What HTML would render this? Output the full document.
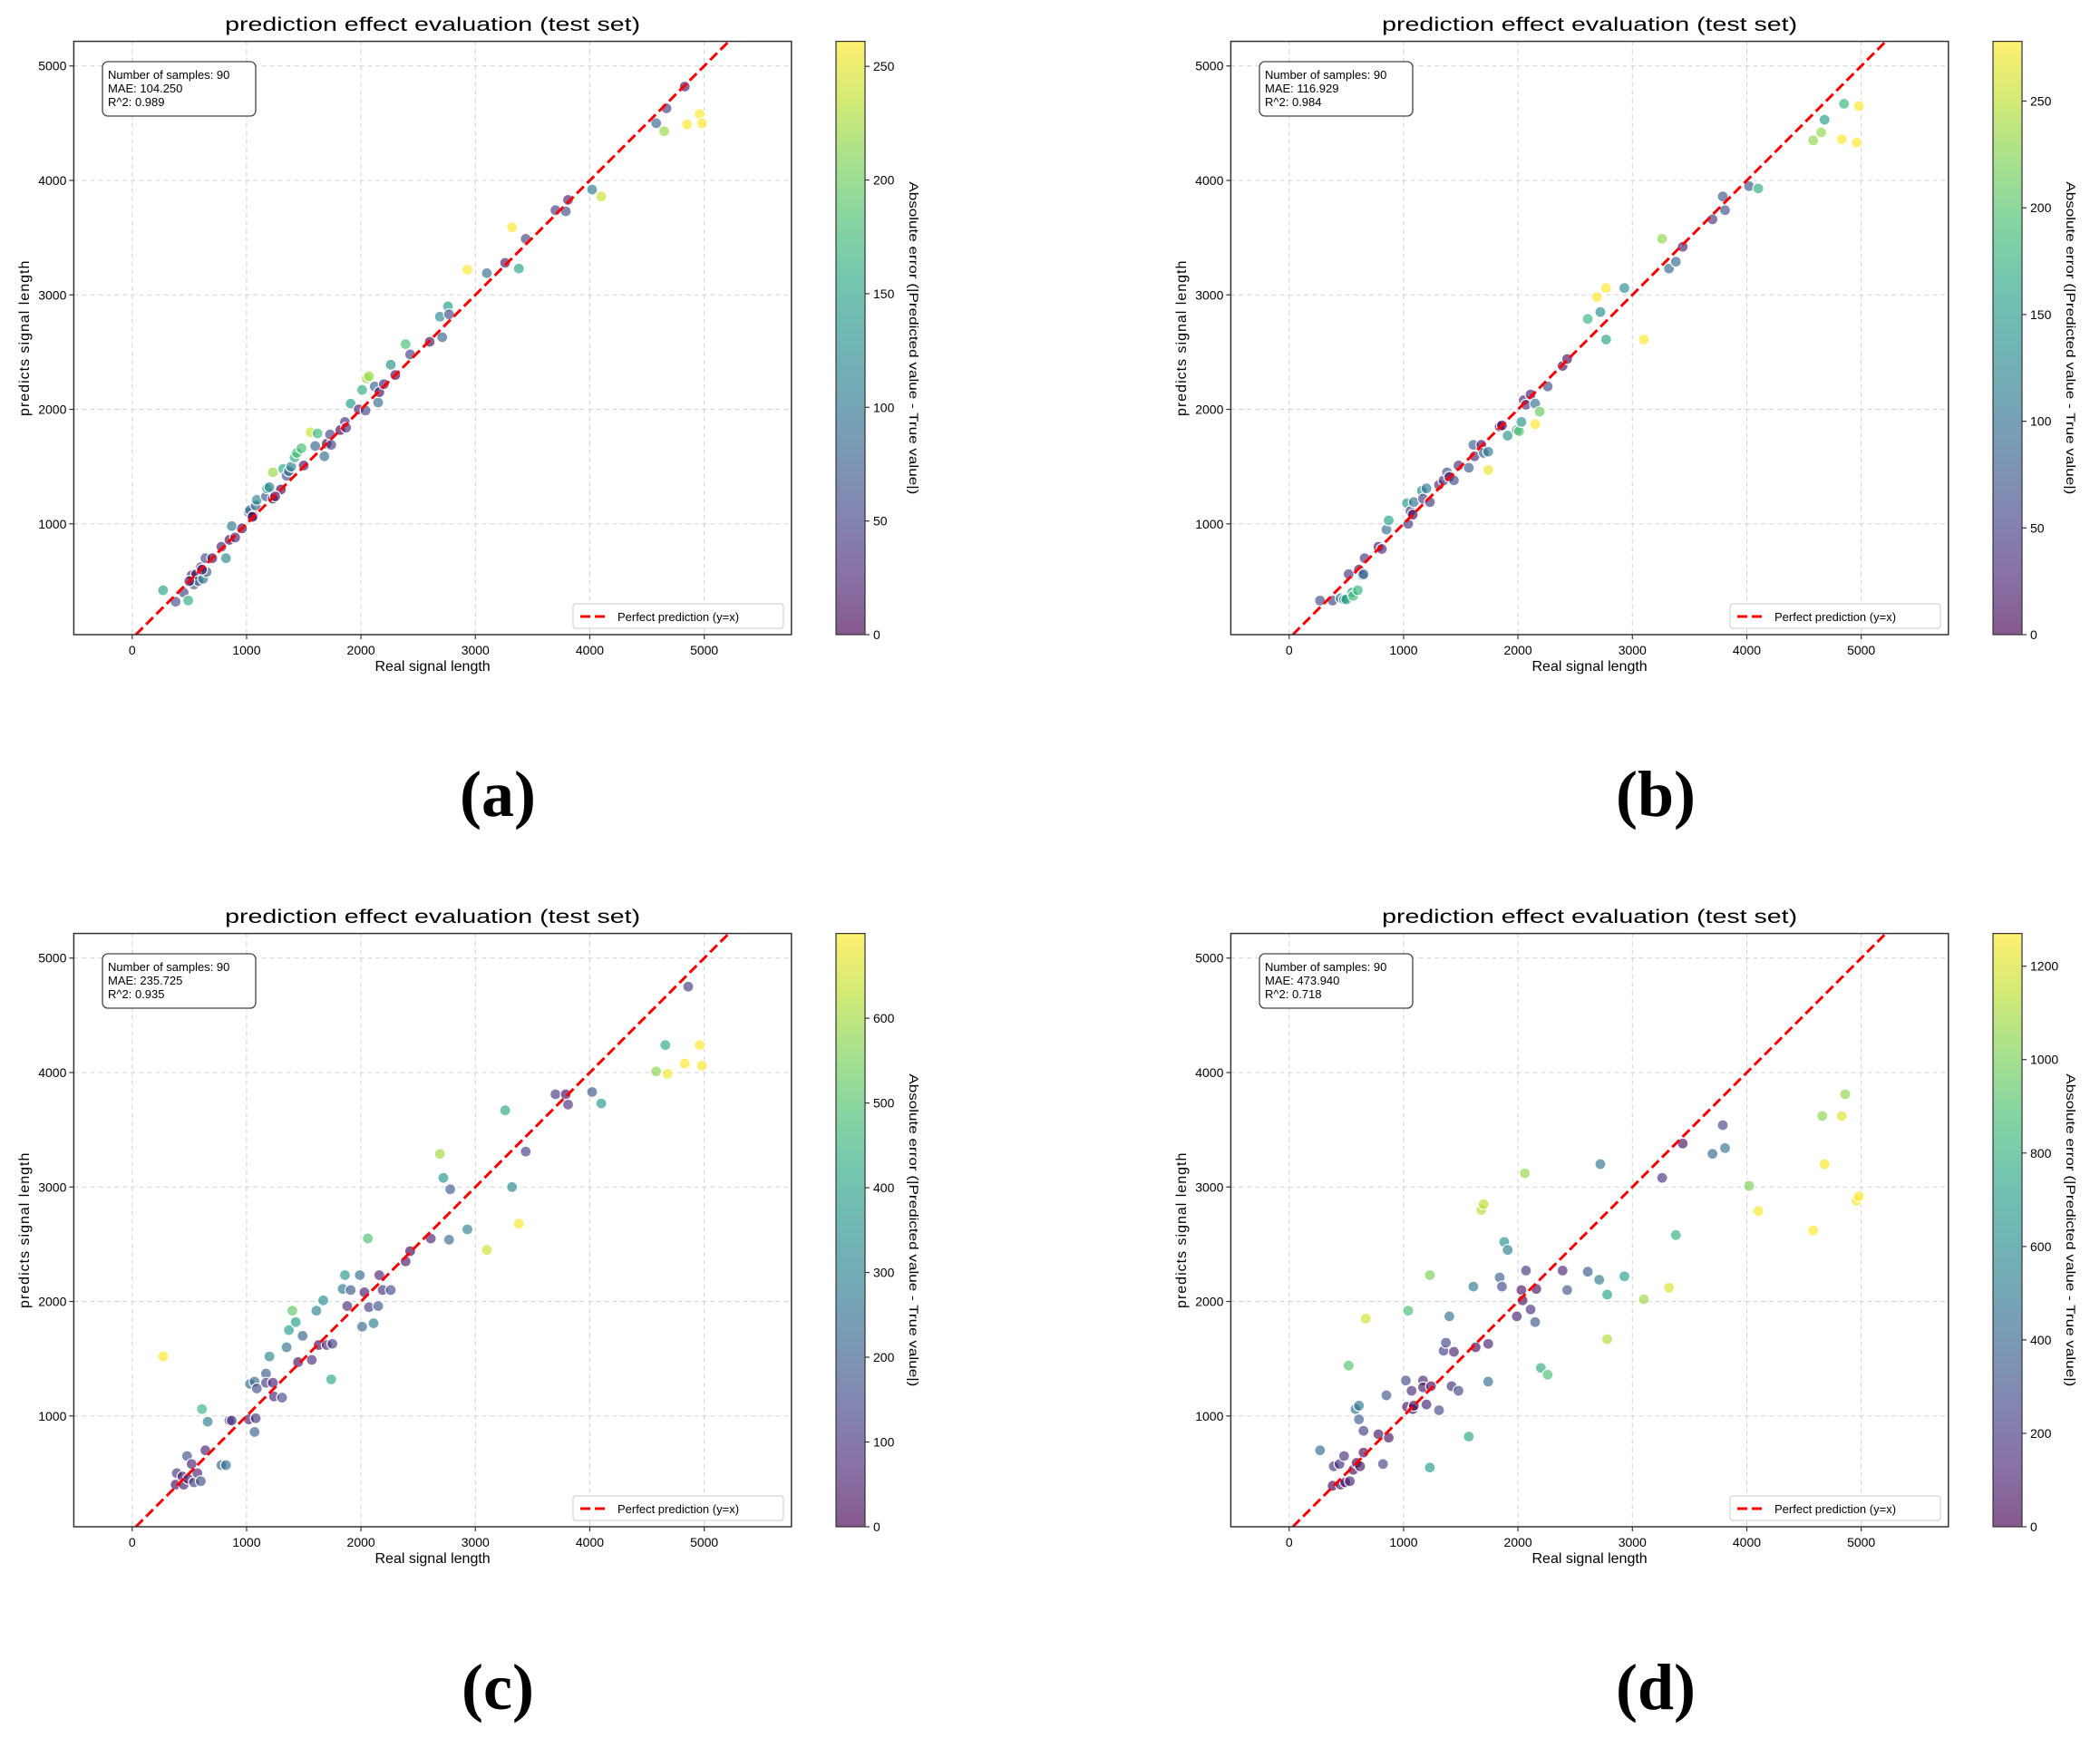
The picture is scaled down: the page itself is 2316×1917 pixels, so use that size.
<!DOCTYPE html>
<html><head><meta charset="utf-8">
<style>
html,body{margin:0;padding:0;background:#fff;}
svg{display:block;font-family:"Liberation Sans","Noto Sans CJK SC",sans-serif;}
</style></head>
<body>
<svg id="fig" width="2316" height="1917" viewBox="0 0 2316 1917" xmlns="http://www.w3.org/2000/svg"></svg>
<script>
// ---------- data ----------
const panelIds = ['a','b','c','d'];
const maeLabels = ['104.250','116.929','235.725','473.940'];
const r2Labels = ['0.989','0.984','0.935','0.718'];
const cbarMax = [261, 278, 700, 1270];
const cbarTicksA = [0,50,100,150,200,250];
const cbarTicksB = [0,50,100,150,200,250];
const cbarTicksC = [0,100,200,300,400,500,600];
const cbarTicksD = [0,200,400,600,800,1000,1200];
const xTicks = [0,1000,2000,3000,4000,5000];
const yTicks = [1000,2000,3000,4000,5000];
const pointsA = [[270,420],[380,320],[450,400],[490,330],[520,550],[540,470],[560,560],[580,500],[600,620],[620,520],[640,700],[650,580],[780,800],[820,700],[850,860],[870,980],[1020,1100],[1030,1120],[1060,1070],[1080,1160],[1090,1210],[1170,1240],[1180,1310],[1200,1320],[1230,1450],[1230,1220],[1320,1480],[1350,1420],[1370,1460],[1390,1500],[1420,1580],[1440,1620],[1480,1660],[1560,1800],[1600,1680],[1620,1790],[1680,1590],[1700,1700],[1730,1780],[1740,1690],[1820,1820],[1860,1890],[1870,1840],[1910,2050],[1980,2000],[2010,2170],[2040,1990],[2050,2270],[2070,2290],[2120,2200],[2150,2060],[2160,2150],[2200,2220],[2260,2390],[2390,2570],[2430,2480],[2600,2590],[2690,2810],[2710,2630],[2760,2900],[2770,2830],[2930,3220],[3100,3190],[3260,3280],[3320,3590],[3380,3230],[3440,3490],[3700,3740],[3790,3730],[3810,3830],[4020,3920],[4100,3860],[4580,4500],[4650,4430],[4670,4630],[4830,4820],[4850,4490],[4960,4580],[4980,4500],[500,500],[700,700],[1050,1060],[1300,1300],[960,960],[2300,2300],[1500,1510],[610,600],[900,880],[1250,1240]];
const pointsB = [[270,330],[380,330],[450,350],[480,340],[500,340],[520,560],[550,400],[560,370],[600,420],[610,600],[640,550],[650,560],[660,700],[780,800],[810,780],[850,950],[870,1030],[1030,1180],[1040,1000],[1060,1110],[1080,1080],[1090,1190],[1160,1290],[1170,1220],[1200,1310],[1230,1190],[1310,1340],[1350,1380],[1380,1450],[1400,1410],[1440,1380],[1480,1510],[1570,1490],[1610,1690],[1620,1590],[1680,1690],[1700,1620],[1740,1630],[1740,1470],[1840,1850],[1860,1860],[1910,1770],[1990,1820],[2010,1810],[2030,1890],[2050,2080],[2070,2040],[2110,2130],[2150,2050],[2150,1870],[2190,1980],[2260,2200],[2390,2380],[2430,2440],[2610,2790],[2690,2980],[2720,2850],[2770,3060],[2770,2610],[2930,3060],[3100,2610],[3260,3490],[3320,3230],[3380,3290],[3440,3420],[3700,3660],[3790,3860],[3810,3740],[4020,3950],[4100,3930],[4580,4350],[4650,4420],[4680,4530],[4830,4360],[4850,4670],[4960,4330],[4980,4650]];
const pointsC = [[270,1520],[380,400],[390,500],[440,470],[450,400],[480,650],[490,450],[520,580],[540,420],[570,500],[600,430],[610,1060],[640,700],[660,950],[780,570],[820,570],[850,960],[870,960],[1020,970],[1030,1280],[1070,1300],[1070,860],[1080,980],[1090,1240],[1170,1370],[1170,1290],[1200,1520],[1230,1290],[1240,1170],[1310,1160],[1350,1600],[1370,1750],[1400,1920],[1430,1820],[1450,1470],[1490,1700],[1570,1490],[1610,1920],[1630,1620],[1670,2010],[1700,1620],[1740,1320],[1750,1630],[1840,2110],[1860,2230],[1880,1960],[1910,2100],[1990,2230],[2010,1780],[2030,2080],[2070,1950],[2110,1810],[2150,1960],[2160,2230],[2190,2100],[2260,2100],[2060,2550],[2390,2350],[2430,2440],[2610,2550],[2690,3290],[2720,3080],[2770,2540],[2780,2980],[2930,2630],[3100,2450],[3260,3670],[3320,3000],[3380,2680],[3440,3310],[3700,3810],[3790,3810],[3810,3720],[4020,3830],[4100,3730],[4580,4010],[4660,4240],[4680,3990],[4830,4080],[4860,4750],[4960,4240],[4980,4060]];
const pointsD = [[270,700],[380,390],[390,560],[440,580],[450,400],[480,650],[490,420],[520,1440],[530,430],[560,530],[580,1060],[590,590],[610,1090],[610,970],[620,560],[650,870],[650,680],[670,1850],[780,840],[820,580],[850,1180],[870,810],[1020,1310],[1030,1080],[1040,1920],[1070,1220],[1080,1060],[1090,1090],[1170,1310],[1170,1250],[1200,1100],[1230,2230],[1230,550],[1240,1260],[1310,1050],[1350,1570],[1370,1640],[1400,1870],[1420,1260],[1440,1560],[1480,1220],[1570,820],[1610,2130],[1630,1600],[1680,2800],[1700,2850],[1740,1630],[1740,1300],[1840,2210],[1860,2130],[1880,2520],[1910,2450],[1990,1870],[2030,2100],[2040,2010],[2060,3120],[2070,2270],[2110,1930],[2150,1820],[2160,2110],[2200,1420],[2260,1360],[2390,2270],[2430,2100],[2610,2260],[2720,3200],[2710,2190],[2780,2060],[2780,1670],[2930,2220],[3100,2020],[3260,3080],[3320,2120],[3380,2580],[3440,3380],[3700,3290],[3790,3540],[3810,3340],[4020,3010],[4100,2790],[4580,2620],[4660,3620],[4680,3200],[4830,3620],[4860,3810],[4960,2880],[4980,2920]];

const allPoints = [pointsA, pointsB, pointsC, pointsD];
const allCbarTicks = [cbarTicksA, cbarTicksB, cbarTicksC, cbarTicksD];

// ---------- layout ----------
const NS = 'http://www.w3.org/2000/svg';
const svg = document.getElementById('fig');
const offsets = [[0,0],[1276,0],[0,984],[1276,984]];
const AX = {l:81.4, r:872.8, t:45.6, b:700};
const XMIN = -510, XMAX = 5762, YMIN = 32, YMAX = 5215;
const CB = {l:922, r:954};
const letterPos = [[549,900],[1826,900],[549,1885],[1826,1885]];

function mk(tag, attrs, parent){
  const e = document.createElementNS(NS, tag);
  for (const k in attrs) e.setAttribute(k, attrs[k]);
  (parent||svg).appendChild(e);
  return e;
}
const viridisStops = [[68,1,84],[72,40,120],[62,74,137],[49,104,142],[38,130,142],[31,158,137],[53,183,121],[109,205,89],[180,222,44],[253,231,37]];
function viridis(t){
  t = Math.max(0, Math.min(1, t));
  const p = t*(viridisStops.length-1), i = Math.min(Math.floor(p), viridisStops.length-2), f = p-i;
  const a = viridisStops[i], b = viridisStops[i+1];
  return 'rgb('+[0,1,2].map(k=>Math.round(a[k]+(b[k]-a[k])*f)).join(',')+')';
}

panelIds.forEach((pid, pi) => {
  const [ox, oy] = offsets[pi];
  const g = mk('g', {transform:`translate(${ox},${oy})`});
  
  
  const sx = v => AX.l + (v - XMIN) / (XMAX - XMIN) * (AX.r - AX.l);
  const sy = v => AX.b - (v - YMIN) / (YMAX - YMIN) * (AX.b - AX.t);

  // title
  const title = mk('text', {x:(AX.l+AX.r)/2, y:34, 'text-anchor':'middle', 'font-size':21, fill:'#000', textLength:458, lengthAdjust:'spacingAndGlyphs'}, g);
  title.textContent = 'prediction effect evaluation (test set)';
  
  

  // grid
  const grid = mk('g', {stroke:'#d0d0d0', 'stroke-width':1, 'stroke-dasharray':'5,4'}, g);
  
  
  xTicks.forEach(v => mk('line', {x1:sx(v), x2:sx(v), y1:AX.t, y2:AX.b}, grid));
  yTicks.forEach(v => mk('line', {x1:AX.l, x2:AX.r, y1:sy(v), y2:sy(v)}, grid));

  // clip
  const cid = 'clip' + pid;
  const cp = mk('clipPath', {id:cid}, g);
  mk('rect', {x:AX.l, y:AX.t, width:AX.r-AX.l, height:AX.b-AX.t}, cp);

  // points
  const pts = mk('g', {'clip-path':`url(#${cid})`}, g);
  
  
  allPoints[pi].forEach(([tx, py]) => {
    const c = mk('circle', {cx:sx(tx), cy:sy(py), r:6, fill:viridis(Math.abs(py-tx)/cbarMax[pi]), 'fill-opacity':0.65, stroke:'#fff', 'stroke-width':1.2}, pts);
    
    
  });

  // y=x line
  const lo = Math.max(XMIN, YMIN), hi = Math.min(XMAX, YMAX);
  const ln = mk('line', {x1:sx(lo), y1:sy(lo), x2:sx(hi), y2:sy(hi), stroke:'#ff0000', 'stroke-width':3, 'stroke-dasharray':'11,5', 'clip-path':`url(#${cid})`}, g);
  
  

  // axes frame
  const fr = mk('rect', {x:AX.l, y:AX.t, width:AX.r-AX.l, height:AX.b-AX.t, fill:'none', stroke:'#333', 'stroke-width':1.5}, g);
  
  

  // ticks
  xTicks.forEach(v => {
    mk('line', {x1:sx(v), x2:sx(v), y1:AX.b, y2:AX.b+5, stroke:'#333', 'stroke-width':1.2}, g);
    const t = mk('text', {x:sx(v), y:AX.b+22, 'text-anchor':'middle', 'font-size':14, fill:'#000'}, g);
    t.textContent = v;
    
    
  });
  yTicks.forEach(v => {
    mk('line', {x1:AX.l-5, x2:AX.l, y1:sy(v), y2:sy(v), stroke:'#333', 'stroke-width':1.2}, g);
    const t = mk('text', {x:AX.l-8, y:sy(v)+5, 'text-anchor':'end', 'font-size':14, fill:'#000'}, g);
    t.textContent = v;
    
    
  });
  const xl = mk('text', {x:(AX.l+AX.r)/2, y:740, 'text-anchor':'middle', 'font-size':16, fill:'#000'}, g);
  xl.textContent = 'Real signal length';
  
  
  const yl = mk('text', {x:0, y:0, transform:`translate(32,${(AX.t+AX.b)/2}) rotate(-90)`, 'text-anchor':'middle', 'font-size':16, fill:'#000', 'letter-spacing':1}, g);
  yl.textContent = 'predicts signal length';
  
  

  // info box
  const ib = mk('g', {}, g);
  
  
  mk('rect', {x:113, y:68, width:169, height:60, rx:6, fill:'#fff', stroke:'#444', 'stroke-width':1.3}, ib);
  ['Number of samples: 90', 'MAE: ' + maeLabels[pi], 'R^2: ' + r2Labels[pi]].forEach((s, i) => {
    const t = mk('text', {x:119, y:87+i*15, 'font-size':13, fill:'#000'}, ib);
    t.textContent = s;
  });

  // legend
  const lg = mk('g', {}, g);
  
  
  mk('rect', {x:632, y:666, width:232, height:27, rx:3, fill:'#fff', stroke:'#ccc', 'stroke-width':1}, lg);
  mk('line', {x1:640, x2:672, y1:680, y2:680, stroke:'#ff0000', 'stroke-width':3, 'stroke-dasharray':'11,5'}, lg);
  const lt = mk('text', {x:681, y:685, 'font-size':13, fill:'#000'}, lg);
  lt.textContent = 'Perfect prediction (y=x)';

  // colorbar
  const gid = 'grad' + pid;
  const lgd = mk('linearGradient', {id:gid, x1:0, y1:1, x2:0, y2:0}, g);
  for (let i = 0; i <= 10; i++) mk('stop', {offset:i/10, 'stop-color':viridis(i/10), 'stop-opacity':0.65}, lgd);
  const cb = mk('rect', {x:CB.l, y:AX.t, width:CB.r-CB.l, height:AX.b-AX.t, fill:`url(#${gid})`, stroke:'#333', 'stroke-width':1.2}, g);
  
  
  const cy = v => AX.b - v / cbarMax[pi] * (AX.b - AX.t);
  allCbarTicks[pi].forEach(v => {
    mk('line', {x1:CB.r, x2:CB.r+5, y1:cy(v), y2:cy(v), stroke:'#333', 'stroke-width':1.2}, g);
    const t = mk('text', {x:CB.r+9, y:cy(v)+5, 'font-size':14, fill:'#000'}, g);
    t.textContent = v;
    
    
  });
  const cl = mk('text', {x:0, y:0, transform:`translate(1003,${(AX.t+AX.b)/2}) rotate(90)`, 'text-anchor':'middle', 'font-size':14, fill:'#000', textLength:345, lengthAdjust:'spacingAndGlyphs'}, g);
  cl.textContent = 'Absolute error (|Predicted value - True value|)';
  
  
});

// subfigure letters
panelIds.forEach((pid, pi) => {
  const t = mk('text', {x:letterPos[pi][0], y:letterPos[pi][1], 'text-anchor':'middle', 'font-size':72, 'font-weight':'bold', 'font-family':'"Liberation Serif", serif', fill:'#000'});
  t.textContent = '(' + pid + ')';
  
  
});
</script>
</body></html>
